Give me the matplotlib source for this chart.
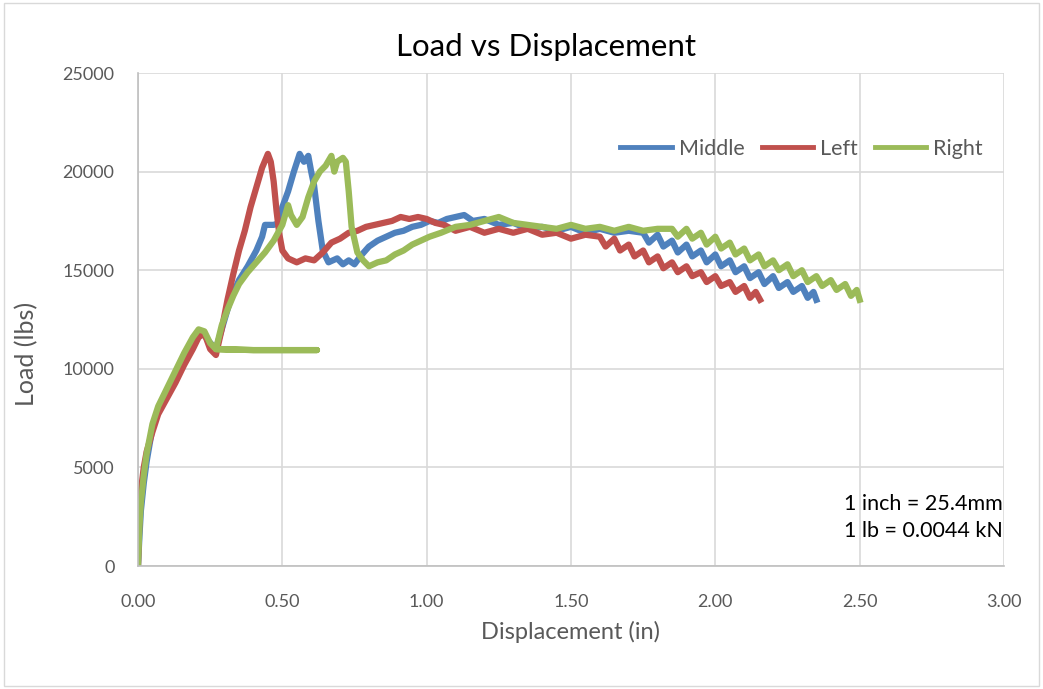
import matplotlib.pyplot as plt
from matplotlib.patches import Rectangle

plt.rcParams['font.family'] = ['Lato', 'DejaVu Sans']

# Middle (blue)
mid_x = [0, 0.005, 0.01, 0.02, 0.03, 0.05, 0.07, 0.10, 0.13, 0.16, 0.19, 0.22, 0.245, 0.27,
         0.29, 0.32, 0.35, 0.38, 0.41, 0.43, 0.44, 0.47, 0.49, 0.50, 0.52, 0.54, 0.56, 0.575,
         0.59, 0.60, 0.61, 0.625, 0.64, 0.66, 0.69, 0.71, 0.73, 0.75, 0.77, 0.80, 0.83, 0.86,
         0.89, 0.92, 0.95, 0.98, 1.01, 1.04, 1.07, 1.10, 1.13, 1.16, 1.20, 1.25, 1.30, 1.35,
         1.40, 1.45, 1.50, 1.55, 1.60, 1.65, 1.70, 1.75, 1.77, 1.80, 1.82, 1.85, 1.87, 1.90,
         1.92, 1.95, 1.97, 2.00, 2.02, 2.05, 2.07, 2.10, 2.12, 2.15, 2.17, 2.20, 2.22, 2.25,
         2.27, 2.30, 2.32, 2.34, 2.35]
mid_y = [0, 1500, 2800, 4200, 5300, 7000, 7900, 8800, 9700, 10700, 11500, 11900, 11400, 11000,
         12000, 13500, 14500, 15200, 16000, 16700, 17300, 17300, 17400, 18200, 19000, 20000, 20900, 20500,
         20800, 20000, 19300, 17500, 16000, 15400, 15600, 15300, 15500, 15300, 15700, 16200, 16500, 16700,
         16900, 17000, 17200, 17300, 17500, 17400, 17600, 17700, 17800, 17500, 17600, 17300, 17400, 17100,
         17200, 17000, 17200, 16900, 17100, 16900, 17000, 16900, 16400, 16800, 16200, 16500, 15900, 16300,
         15700, 16000, 15400, 15800, 15200, 15500, 14900, 15200, 14600, 14900, 14300, 14700, 14100, 14400,
         13900, 14200, 13600, 13900, 13500]

# Left (red)
left_x = [0, 0.005, 0.01, 0.02, 0.03, 0.05, 0.07, 0.10, 0.13, 0.16, 0.19, 0.21, 0.23, 0.25,
          0.27, 0.29, 0.31, 0.33, 0.35, 0.37, 0.39, 0.41, 0.43, 0.45, 0.46, 0.47, 0.48, 0.49,
          0.50, 0.52, 0.55, 0.58, 0.61, 0.64, 0.67, 0.70, 0.73, 0.76, 0.79, 0.82, 0.85, 0.88,
          0.91, 0.94, 0.97, 1.00, 1.03, 1.06, 1.10, 1.15, 1.20, 1.25, 1.30, 1.35, 1.40, 1.45,
          1.50, 1.55, 1.60, 1.62, 1.65, 1.67, 1.70, 1.72, 1.75, 1.77, 1.80, 1.82, 1.85, 1.87,
          1.90, 1.92, 1.95, 1.97, 2.00, 2.02, 2.05, 2.07, 2.10, 2.12, 2.14, 2.155]
left_y = [0, 2500, 3800, 5000, 5800, 6800, 7700, 8500, 9300, 10200, 11000, 11600, 11800, 11000,
          10700, 12000, 13500, 14800, 16000, 17000, 18200, 19200, 20200, 20900, 20500, 19500, 18000, 16800,
          16000, 15600, 15400, 15600, 15500, 15900, 16400, 16600, 16900, 17000, 17200, 17300, 17400, 17500,
          17700, 17600, 17700, 17600, 17400, 17300, 17000, 17200, 16900, 17100, 16900, 17100, 16800, 16900,
          16600, 16800, 16700, 16200, 16600, 16000, 16300, 15700, 16000, 15400, 15700, 15100, 15400, 14900,
          15200, 14700, 14900, 14400, 14700, 14200, 14400, 13900, 14200, 13600, 13900, 13500]

# Right (green)
right_x = [0, 0.005, 0.01, 0.02, 0.03, 0.05, 0.07, 0.10, 0.13, 0.16, 0.19, 0.21, 0.23, 0.25,
           0.27, 0.40, 0.50, 0.62, 0.50, 0.40, 0.27, 0.29, 0.31, 0.33, 0.35, 0.38, 0.41, 0.44,
           0.47, 0.50, 0.52, 0.53, 0.55, 0.57, 0.59, 0.61, 0.63, 0.65, 0.67, 0.68, 0.69, 0.71,
           0.72, 0.73, 0.74, 0.76, 0.78, 0.80, 0.83, 0.86, 0.89, 0.92, 0.95, 0.98, 1.01, 1.05,
           1.10, 1.15, 1.20, 1.25, 1.30, 1.35, 1.40, 1.45, 1.50, 1.55, 1.60, 1.65, 1.70, 1.75,
           1.80, 1.85, 1.87, 1.90, 1.92, 1.95, 1.97, 2.00, 2.02, 2.05, 2.07, 2.10, 2.12, 2.15,
           2.17, 2.20, 2.22, 2.25, 2.27, 2.30, 2.32, 2.35, 2.37, 2.40, 2.42, 2.45, 2.47, 2.49,
           2.50]
right_y = [0, 2000, 3200, 4600, 5700, 7200, 8100, 9000, 9900, 10800, 11600, 12000, 11900, 11300,
           11000, 10950, 10950, 10950, 10950, 10950, 11000, 12200, 13000, 13700, 14300, 14900, 15400, 15900,
           16500, 17300, 18300, 17800, 17300, 17700, 18700, 19500, 20000, 20300, 20800, 20000, 20500, 20700,
           20500, 19000, 17200, 15900, 15500, 15200, 15400, 15500, 15800, 16000, 16300, 16500, 16700, 16900,
           17200, 17300, 17500, 17700, 17400, 17300, 17200, 17100, 17300, 17100, 17200, 17000, 17200, 17000,
           17100, 17100, 16700, 17100, 16600, 16900, 16300, 16700, 16100, 16400, 15800, 16100, 15500, 15800,
           15200, 15500, 15000, 15300, 14700, 15000, 14400, 14700, 14200, 14500, 14000, 14300, 13700, 14000,
           13500]

fig = plt.figure(figsize=(10.43, 6.89), dpi=100)
fig.patches.append(Rectangle((0.004, 0.004), 0.992, 0.992, transform=fig.transFigure,
                             fill=False, edgecolor='#d9d9d9', linewidth=1))
ax = fig.add_axes([0.1323, 0.1785, 0.8303, 0.7155])

ax.plot(mid_x, mid_y, color='#4F81BD', linewidth=4.5, label='Middle', solid_joinstyle='round')
ax.plot(left_x, left_y, color='#C0504D', linewidth=4.5, label='Left', solid_joinstyle='round')
ax.plot(right_x, right_y, color='#9BBB59', linewidth=4.5, label='Right', solid_joinstyle='round')

ax.set_xlim(0, 3)
ax.set_ylim(0, 25000)
ax.set_xticks([0, 0.5, 1.0, 1.5, 2.0, 2.5, 3.0])
ax.set_xticklabels(['0.00', '0.50', '1.00', '1.50', '2.00', '2.50', '3.00'])
ax.set_yticks([0, 5000, 10000, 15000, 20000, 25000])
ax.grid(True, color='#d9d9d9', linewidth=1.2)
ax.set_axisbelow(True)
for s in ['top', 'right']:
    ax.spines[s].set_visible(False)
for s in ['left', 'bottom']:
    ax.spines[s].set_color('#bfbfbf')
    ax.spines[s].set_linewidth(1.2)
ax.tick_params(length=0, labelsize=13, colors='#595959')
ax.tick_params(axis='x', pad=20)
ax.tick_params(axis='y', pad=17)

fig.text(0.5235, 0.932, 'Load vs Displacement', fontsize=22.5, color='#000000',
         ha='center', va='center')
ax.set_xlabel('Displacement (in)', fontsize=17, color='#595959', labelpad=8)
ax.set_ylabel('Load (lbs)', fontsize=18, color='#595959', va='center')
ax.yaxis.set_label_coords(-0.128, 0.43)

leg = ax.legend(loc='center right', bbox_to_anchor=(0.985, 0.846), ncol=3, frameon=False,
                fontsize=15.5, handlelength=2.4, columnspacing=0.8, handletextpad=0.3,
                borderaxespad=0)
for t in leg.get_texts():
    t.set_color('#595959')
for h in leg.get_lines():
    h.set_linewidth(3.5)

ax.text(0.815, 0.05, '1 inch = 25.4mm\n1 lb = 0.0044 kN', transform=ax.transAxes,
        fontsize=15.5, color='#000000', linespacing=1.45, va='bottom')

fig.savefig('out.png', dpi=100)
